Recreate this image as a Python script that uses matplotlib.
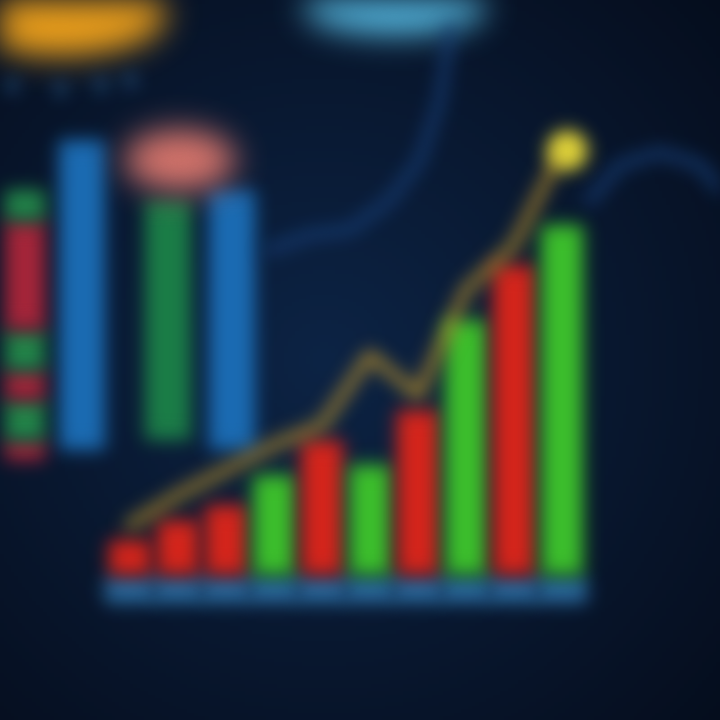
import numpy as np
import matplotlib
matplotlib.use('Agg')
from matplotlib import pyplot as plt
from matplotlib.patches import Ellipse

# main bar chart (heights above baseline, picture units)
bar_heights = [35, 55, 70, 100, 135, 110, 165, 255, 310, 350]
bar_colors = ['#d8261c', '#d8261c', '#d8261c', '#3ec22c', '#d8261c',
              '#3ec22c', '#d8261c', '#3ec22c', '#d8261c', '#3ec22c']
trend_values = [50, 80, 105, 130, 150, 220, 180, 285, 330, 425]

# background columns on the left
left_x = [82, 168, 232]
left_bottom = [270, 280, 270]
left_top = [580, 520, 530]
left_colors = ['#1c6cb4', '#1c7e48', '#1c6cb4']
stack_segments = [20, 40, 30, 40, 110, 30]
stack_colors = ['#a8263a', '#24884a', '#a8263a', '#24884a', '#a8263a', '#24884a']

BASE = 145
X0, DX = 130, 48


def gauss_blur(sigma):
    def f(im, dpi):
        s = sigma * dpi / 100.0
        pad = int(3 * s) + 1
        a = np.pad(im, ((pad, pad), (pad, pad), (0, 0))).astype(float)
        a[..., :3] *= a[..., 3:4]  # premultiply
        r = np.arange(-pad, pad + 1)
        k = np.exp(-r ** 2 / (2 * s ** 2))
        k /= k.sum()
        out = np.zeros_like(a)
        for o, w in zip(r, k):
            out += w * np.roll(a, o, axis=0)
        out2 = np.zeros_like(a)
        for o, w in zip(r, k):
            out2 += w * np.roll(out, o, axis=1)
        al = out2[..., 3:4]
        out2[..., :3] = np.where(al > 1e-4, out2[..., :3] / np.maximum(al, 1e-4), 0)
        return np.clip(out2, 0, 1), -pad, -pad
    return f


fig = plt.figure(figsize=(7.2, 7.2), dpi=100)
ax = fig.add_axes([0, 0, 1, 1])
ax.set_xlim(0, 720)
ax.set_ylim(0, 720)
ax.axis('off')

# background gradient
yy, xx = np.mgrid[0:1:200j, 0:1:200j]
d = np.sqrt((xx - 0.45) ** 2 + (yy - 0.5) ** 2)
bg = np.clip(1 - d * 1.3, 0, 1)
c0 = np.array([0.02, 0.05, 0.11])
c1 = np.array([0.05, 0.14, 0.27])
img = c0 + (c1 - c0) * bg[..., None]
ax.imshow(img, extent=[0, 720, 0, 720], aspect='auto', zorder=0)

blur = gauss_blur(9)
soft = gauss_blur(16)

# top blobs
for e in [Ellipse((60, 705), 210, 80, color='#f0a21c'),
          Ellipse((395, 712), 180, 50, color='#5cc6f0')]:
    e.set_agg_filter(soft)
    ax.add_patch(e)

# dots
dots, = ax.plot([12, 60, 100, 130], [635, 632, 636, 640], 'o', color='#24507e', ms=9)
dots.set_agg_filter(blur)

# thin blue curves
for xs, ys in [([450, 440, 420, 390, 350, 310, 270], [690, 620, 560, 520, 490, 485, 470]),
               ([590, 620, 660, 700, 720], [520, 555, 568, 555, 530])]:
    ln, = ax.plot(xs, ys, color='#163c72', lw=7)
    ln.set_agg_filter(blur)

# left columns
lb = ax.bar(left_x, np.array(left_top) - np.array(left_bottom), bottom=left_bottom,
            width=46, color=left_colors)
for p in lb:
    p.set_agg_filter(blur)
bottom = 260
for h, c in zip(stack_segments, stack_colors):
    p = ax.bar(25, h, bottom=bottom, width=40, color=c)[0]
    p.set_agg_filter(blur)
    bottom += h
pink = Ellipse((180, 560), 110, 60, color='#d8766c')
pink.set_agg_filter(soft)
ax.add_patch(pink)

# base strip
xs = X0 + DX * np.arange(len(bar_heights))
strip = ax.bar(xs, 26, bottom=BASE - 28, width=50, color='#2a6a9e')
for p in strip:
    p.set_agg_filter(blur)

bars = ax.bar(xs, bar_heights, bottom=BASE, width=42, color=bar_colors)
for p in bars:
    p.set_agg_filter(blur)

trend, = ax.plot(xs, BASE + np.array(trend_values), color='#c89a2a', lw=6)
trend.set_agg_filter(blur)
mk, = ax.plot(xs[-1] + 5, BASE + trend_values[-1], 'o', color='#e6d83a', ms=28)
mk.set_agg_filter(blur)

fig.savefig('out.png', dpi=100)
